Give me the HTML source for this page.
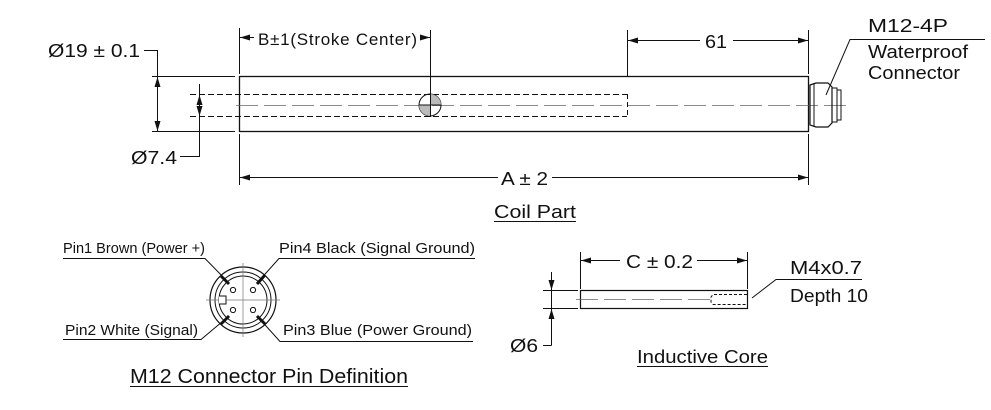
<!DOCTYPE html>
<html><head><style>
html,body{margin:0;padding:0;background:#fff;}
svg{display:block;}
text{font-family:"Liberation Sans","DejaVu Sans",sans-serif;fill:#111;}
</style></head><body>
<svg width="991" height="410" viewBox="0 0 991 410" xmlns="http://www.w3.org/2000/svg">
<defs>
<marker id="a" viewBox="0 0 10 6" refX="10" refY="3" markerWidth="10" markerHeight="6" orient="auto-start-reverse" markerUnits="userSpaceOnUse"><path d="M0,0 L10,3 L0,6 z" fill="#111"/></marker>
</defs>
<g stroke="#111" stroke-width="1" fill="none">
<rect x="239.5" y="76.5" width="569" height="55" stroke-width="1.3"/>
<line x1="190" y1="94.5" x2="627" y2="94.5" stroke-dasharray="6,3"/>
<line x1="190" y1="116.5" x2="627" y2="116.5" stroke-dasharray="6,3"/>
<line x1="627.5" y1="94" x2="627.5" y2="117" stroke-dasharray="5,3"/>
<line x1="236" y1="105.5" x2="850" y2="105.5" stroke="#666" stroke-width="0.7" stroke-dasharray="22,6"/>
<circle cx="430" cy="105" r="11"/>
<path d="M430,94 A11,11 0 0,1 441,105 L430,105 Z" fill="#bbb" stroke="none"/>
<path d="M430,116 A11,11 0 0,1 419,105 L430,105 Z" fill="#bbb" stroke="none"/>
<line x1="419" y1="105" x2="441" y2="105"/>
<line x1="430.5" y1="30" x2="430.5" y2="117"/>
<line x1="239.5" y1="28" x2="239.5" y2="74"/>
<line x1="239.5" y1="134" x2="239.5" y2="185"/>
<line x1="627.5" y1="30" x2="627.5" y2="76"/>
<line x1="808.5" y1="30" x2="808.5" y2="74"/>
<line x1="808.5" y1="134" x2="808.5" y2="185"/>
<line x1="152" y1="76.5" x2="235" y2="76.5"/>
<line x1="152" y1="131.5" x2="235" y2="131.5"/>
<line x1="240" y1="37.5" x2="254" y2="37.5" marker-start="url(#a)"/>
<line x1="420" y1="37.5" x2="430" y2="37.5" marker-end="url(#a)"/>
<line x1="628" y1="40.5" x2="700" y2="40.5" marker-start="url(#a)"/>
<line x1="733" y1="40.5" x2="808" y2="40.5" marker-end="url(#a)"/>
<line x1="240" y1="177.5" x2="498" y2="177.5" marker-start="url(#a)"/>
<line x1="552" y1="177.5" x2="808" y2="177.5" marker-end="url(#a)"/>
<polyline points="144,50.5 157.5,50.5 157.5,77"/>
<line x1="157.5" y1="77" x2="157.5" y2="131" marker-start="url(#a)" marker-end="url(#a)"/>
<line x1="199.5" y1="95" x2="199.5" y2="116" marker-start="url(#a)" marker-end="url(#a)"/>
<polyline points="199.5,116 199.5,156.5 180,156.5"/>
<line x1="199.5" y1="84" x2="199.5" y2="95"/>
<path d="M810,85 L816,83 L828,83 L832,87 L832,123 L828,127 L816,127 L810,125 Z" stroke-width="1.2"/>
<line x1="814" y1="83" x2="814" y2="127"/>
<rect x="832" y="88" width="5" height="34"/>
<rect x="837" y="90" width="4" height="30"/>
<polyline points="826,95 850,39.5 985,39.5"/>
<circle cx="243" cy="300" r="33" stroke-width="1.2"/>
<circle cx="243" cy="300" r="28"/>
<circle cx="243" cy="300" r="24"/>
<line x1="206" y1="300" x2="280" y2="300" stroke="#777" stroke-width="0.7"/>
<line x1="243" y1="263" x2="243" y2="337" stroke="#777" stroke-width="0.7"/>
<path d="M219,296 L226,296 L226,304 L219,304" fill="#fff"/>
<circle cx="233" cy="290" r="2.6"/>
<circle cx="253" cy="290" r="2.6"/>
<circle cx="233" cy="310" r="2.6"/>
<circle cx="253" cy="310" r="2.6"/>
<polyline points="63,258.5 205,258.5 229,283"/>
<line x1="221" y1="276" x2="229" y2="284" stroke-width="3"/>
<polyline points="475,258.5 279,258.5 257,283"/>
<line x1="265" y1="275" x2="257" y2="284" stroke-width="3"/>
<polyline points="63,339.5 201,339.5 229,316"/>
<line x1="221" y1="324" x2="229" y2="316" stroke-width="3"/>
<polyline points="473,341.5 280,341.5 257,316"/>
<line x1="265" y1="324" x2="257" y2="316" stroke-width="3"/>
<rect x="580.5" y="290.5" width="167" height="18" stroke-width="1.2"/>
<line x1="576" y1="299.5" x2="712" y2="299.5" stroke="#666" stroke-width="0.7" stroke-dasharray="22,6"/>
<path d="M747,294.5 L713,294.5 L711,297 L711,302 L713,304.5 L747,304.5" stroke-dasharray="3,2"/>
<line x1="580.5" y1="252" x2="580.5" y2="289"/>
<line x1="747.5" y1="252" x2="747.5" y2="289"/>
<line x1="581" y1="260.5" x2="620" y2="260.5" marker-start="url(#a)"/>
<line x1="697" y1="260.5" x2="747" y2="260.5" marker-end="url(#a)"/>
<line x1="543" y1="290.5" x2="578" y2="290.5"/>
<line x1="543" y1="308.5" x2="578" y2="308.5"/>
<line x1="551.5" y1="272" x2="551.5" y2="290" marker-end="url(#a)"/>
<line x1="551.5" y1="290" x2="551.5" y2="309"/>
<polyline points="551.5,345.5 551.5,309" marker-end="url(#a)"/>
<line x1="551.5" y1="345.5" x2="543" y2="345.5"/>
<polyline points="752,298 776,279.5 862,279.5"/>
<line x1="494" y1="221.5" x2="576" y2="221.5"/>
<line x1="130" y1="386.5" x2="408" y2="386.5"/>
<line x1="637" y1="366.5" x2="768" y2="366.5"/>
</g>
<g font-size="18">
<text x="48" y="57" textLength="92" lengthAdjust="spacingAndGlyphs">Ø19 ± 0.1</text>
<text x="258" y="45" font-size="17" textLength="159" lengthAdjust="spacing">B±1(Stroke Center)</text>
<text x="705" y="48" textLength="22" lengthAdjust="spacingAndGlyphs">61</text>
<text x="131" y="164" textLength="46" lengthAdjust="spacingAndGlyphs">Ø7.4</text>
<text x="501" y="185" textLength="47" lengthAdjust="spacingAndGlyphs">A ± 2</text>
<text x="868" y="32" textLength="80" lengthAdjust="spacingAndGlyphs">M12-4P</text>
<text x="868" y="58" textLength="100" lengthAdjust="spacingAndGlyphs">Waterproof</text>
<text x="868" y="79" textLength="92" lengthAdjust="spacingAndGlyphs">Connector</text>
<text x="494" y="218" textLength="82" lengthAdjust="spacingAndGlyphs">Coil Part</text>
<text x="626" y="268" textLength="67" lengthAdjust="spacingAndGlyphs">C ± 0.2</text>
<text x="790" y="274" textLength="72" lengthAdjust="spacingAndGlyphs">M4x0.7</text>
<text x="790" y="302" textLength="78" lengthAdjust="spacingAndGlyphs">Depth 10</text>
<text x="510" y="352" textLength="28" lengthAdjust="spacingAndGlyphs">Ø6</text>
<text x="637" y="363" textLength="131" lengthAdjust="spacingAndGlyphs">Inductive Core</text>
<text x="130" y="383" font-size="20" textLength="278" lengthAdjust="spacingAndGlyphs">M12 Connector Pin Definition</text>
</g>
<g font-size="14.5">
<text x="63" y="253" textLength="142" lengthAdjust="spacingAndGlyphs">Pin1 Brown (Power +)</text>
<text x="279" y="253" textLength="196" lengthAdjust="spacingAndGlyphs">Pin4 Black (Signal Ground)</text>
<text x="65" y="335" textLength="133" lengthAdjust="spacingAndGlyphs">Pin2 White (Signal)</text>
<text x="283" y="335" textLength="189" lengthAdjust="spacingAndGlyphs">Pin3 Blue (Power Ground)</text>
</g>
</svg>
</body></html>
